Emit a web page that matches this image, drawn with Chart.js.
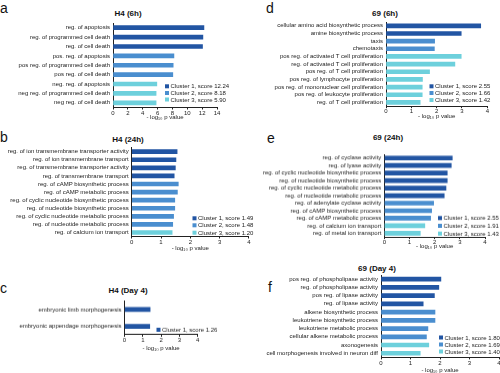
<!DOCTYPE html>
<html>
<head>
<meta charset="utf-8">
<script src="https://cdn.jsdelivr.net/npm/chart.js@4.4.0/dist/chart.umd.min.js"></script>
<style>
  html, body { margin: 0; padding: 0; background: #fff; overflow: hidden; }
  #fig { position: relative; width: 500px; height: 373px; font-family: "Liberation Sans", Arial, sans-serif; color: #222; }
  #fig canvas { position: absolute; }
  .letter { position: absolute; font-size: 14px; line-height: 14px; color: #111; }
  .ptitle { position: absolute; width: 120px; text-align: center; font-size: 8px; line-height: 10px; font-weight: bold; color: #111; }
</style>
</head>
<body>
<div id="fig">
  <div class="letter" style="left:0px;top:1px">a</div>
  <div class="letter" style="left:0px;top:130px">b</div>
  <div class="letter" style="left:0px;top:281px">c</div>
  <div class="letter" style="left:266px;top:1px">d</div>
  <div class="letter" style="left:267px;top:131px">e</div>
  <div class="letter" style="left:268px;top:280px">f</div>

  <div class="ptitle" style="left:68px;top:9px">H4 (6h)</div>
  <div class="ptitle" style="left:68px;top:135px">H4 (24h)</div>
  <div class="ptitle" style="left:68px;top:286px">H4 (Day 4)</div>
  <div class="ptitle" style="left:325px;top:9px">69 (6h)</div>
  <div class="ptitle" style="left:328px;top:133px">69 (24h)</div>
  <div class="ptitle" style="left:317px;top:264px">69 (Day 4)</div>

  <canvas id="chartA"></canvas>
  <canvas id="chartB"></canvas>
  <canvas id="chartC"></canvas>
  <canvas id="chartD"></canvas>
  <canvas id="chartE"></canvas>
  <canvas id="chartF"></canvas>
</div>
<script>
// H4 (6h)
const aCategories = ['reg. of apoptosis', 'reg. of programmed cell death', 'reg. of cell death',
  'pos. reg. of apoptosis', 'pos reg. of programmed cell death', 'pos reg. of cell death',
  'neg. reg. of apoptosis', 'neg reg. of programmed cell death', 'neg reg. of cell death'];
const aValues = [12.24, 12.1, 12.05, 8.2, 8.1, 8.05, 5.9, 5.8, 5.8];
const aClusters = [1, 1, 1, 2, 2, 2, 3, 3, 3];
const aLegend = ['Cluster 1, score 12.24', 'Cluster 2, score 8.18', 'Cluster 3, score 5.90'];
const aTicks = [0, 2, 4, 6, 8, 10, 12, 14];

// H4 (24h)
const bCategories = ['reg. of ion transmembrane transporter activity', 'reg. of ion transmembrane transport',
  'reg. of transmembrane transporter activity', 'reg. of transmembrane transport',
  'reg. of cAMP biosynthetic process', 'reg. of cAMP metabolic process',
  'reg. of cyclic nucleotide biosynthetic process', 'reg. of nucleotide biosynthetic process',
  'reg. of cyclic nucleotide metabolic process', 'reg. of nucleotide metabolic process',
  'reg. of calcium ion transport'];
const bValues = [1.55, 1.51, 1.49, 1.45, 1.59, 1.56, 1.47, 1.47, 1.43, 1.40, 1.38];
const bClusters = [1, 1, 1, 1, 2, 2, 2, 2, 2, 2, 3];
const bLegend = ['Cluster 1, score 1.49', 'Cluster 2, score 1.48', 'Cluster 3, score 1.20'];

// H4 (Day 4)
const cCategories = ['embryonic limb morphogenesis', 'embryonic appendage morphogenesis'];
const cValues = [1.40, 1.38];
const cClusters = [1, 1];
const cLegend = ['Cluster 1, score 1.26'];

// 69 (6h)
const dCategories = ['cellular amino acid biosynthetic process', 'amine biosynthetic process', 'taxis', 'chemotaxis',
  'pos reg. of activated T cell proliferation', 'reg. of activated T cell proliferation',
  'pos reg. of T cell proliferation', 'pos reg. of lymphocyte proliferation',
  'pos reg. of mononuclear cell proliferation', 'pos reg. of leukocyte proliferation',
  'reg. of T cell proliferation'];
const dValues = [3.74, 2.97, 1.92, 1.91, 2.97, 2.72, 1.72, 1.44, 1.43, 1.43, 1.35];
const dClusters = [1, 1, 2, 2, 3, 3, 3, 3, 3, 3, 3];
const dLegend = ['Cluster 1, score 2.55', 'Cluster 2, score 1.66', 'Cluster 3, score 1.42'];

// 69 (24h)
const eCategories = ['reg. of cyclase activity', 'reg. of lyase activity',
  'reg. of cyclic nucleotide biosynthetic process', 'reg. of nucleotide biosynthetic process',
  'reg. of cyclic nucleotide metabolic process', 'reg. of nucleotide metabolic process',
  'reg. of adenylate cyclase activity', 'reg. of cAMP biosynthetic process',
  'reg. of cAMP metabolic process', 'reg. of calcium ion transport', 'reg. of metal ion transport'];
const eValues = [2.70, 2.66, 2.50, 2.50, 2.45, 2.38, 1.96, 1.88, 1.84, 1.61, 1.43];
const eClusters = [1, 1, 1, 1, 1, 1, 2, 2, 2, 3, 3];
const eLegend = ['Cluster 1, score 2.55', 'Cluster 2, score 1.91', 'Cluster 3, score 1.43'];

// 69 (Day 4)
const fCategories = ['pos reg. of phospholipase activity', 'reg. of phospholipase activity',
  'pos reg. of lipase activity', 'reg. of lipase activity', 'alkene biosynthetic process',
  'leukotriene biosynthetic process', 'leukotriene metabolic process',
  'cellular alkene metabolic process', 'axonogenesis', 'cell morphogenesis involved in neuron diff'];
const fValues = [2.03, 1.96, 1.81, 1.43, 1.83, 1.83, 1.59, 1.54, 1.62, 1.33];
const fClusters = [1, 1, 1, 1, 2, 2, 2, 2, 3, 3];
const fLegend = ['Cluster 1, score 1.80', 'Cluster 2, score 1.69', 'Cluster 3, score 1.40'];

const smallTicks = [0, 1, 2, 3, 4];

const clusterColors = ['#2255a3', '#4a8ecf', '#6dd0dc'];

Chart.defaults.font.family = '"Liberation Sans", Arial, sans-serif';
Chart.defaults.font.size = 6;
Chart.defaults.color = '#222';

// legend squares + text drawn at fixed spots inside the plot
const clusterLegend = {
  id: 'clusterLegend',
  afterDraw(chart, args, opts) {
    const ctx = chart.ctx;
    ctx.save();
    ctx.font = '6px "Liberation Sans", Arial, sans-serif';
    ctx.textBaseline = 'middle';
    ctx.textAlign = 'left';
    chart.data.datasets.forEach((ds, i) => {
      const y = opts.rows[i] - opts.top;
      const x = opts.x - opts.left;
      ctx.fillStyle = ds.backgroundColor;
      ctx.fillRect(x, y - 2, 4, 4);
      ctx.fillStyle = '#222';
      ctx.fillText(ds.label, x + 5.5, y + 0.5);
    });
    ctx.restore();
  }
};

function makePanel(id, categories, values, clusters, legend, ticks, box, area, legendPos) {
  const canvas = document.getElementById(id);
  canvas.style.left = box.left + 'px';
  canvas.style.top = box.top + 'px';
  canvas.width = box.w;
  canvas.height = box.h;
  canvas.style.width = box.w + 'px';
  canvas.style.height = box.h + 'px';

  const datasets = legend.map((label, k) => ({
    label: label,
    data: values.map((v, i) => clusters[i] === k + 1 ? v : null),
    backgroundColor: clusterColors[k],
    barThickness: 4,
    grouped: false
  }));

  new Chart(canvas.getContext('2d'), {
    type: 'bar',
    data: { labels: categories, datasets: datasets },
    options: {
      indexAxis: 'y',
      responsive: false,
      animation: false,
      layout: {
        padding: { left: 0, bottom: 0, top: area.T - box.top, right: box.left + box.w - area.R }
      },
      plugins: {
        legend: { display: false },
        tooltip: { enabled: false },
        clusterLegend: { x: legendPos.x, rows: legendPos.rows, left: box.left, top: box.top }
      },
      scales: {
        x: {
          min: 0,
          max: ticks[ticks.length - 1],
          afterBuildTicks: (scale) => { scale.ticks = ticks.map(v => ({ value: v })); },
          afterFit: (scale) => {
            scale.height = box.top + box.h - area.B;
            scale.paddingLeft = 0;
            scale.paddingRight = 0;
          },
          grid: { drawOnChartArea: false, drawTicks: true, tickLength: 2, color: '#222' },
          border: { display: true, color: '#222', width: 1 },
          ticks: { autoSkip: false, padding: 0, maxRotation: 0, font: { size: 6 } },
          title: { display: true, text: '- log₁₀ p value', padding: 0, font: { size: 6 } }
        },
        y: {
          afterFit: (scale) => {
            scale.width = area.L - box.left;
            scale.paddingTop = 0;
            scale.paddingBottom = 0;
          },
          grid: { drawOnChartArea: false, drawTicks: false },
          border: { display: true, color: '#222', width: 1 },
          ticks: { autoSkip: false, padding: 3, font: { size: 6 } }
        }
      }
    },
    plugins: [clusterLegend]
  });
}

makePanel('chartA', aCategories, aValues, aClusters, aLegend, aTicks,
  { left: 0, top: 0, w: 256, h: 121 }, { L: 113, R: 217, T: 23, B: 107.5 },
  { x: 165, rows: [86.3, 93, 99.5] });

makePanel('chartB', bCategories, bValues, bClusters, bLegend, smallTicks,
  { left: 0, top: 125, w: 256, h: 127 }, { L: 131.7, R: 248.9, T: 147.6, B: 236.5 },
  { x: 192.5, rows: [218.3, 225.3, 232.7] });

makePanel('chartC', cCategories, cValues, cClusters, cLegend, smallTicks,
  { left: 0, top: 255, w: 256, h: 96.6 }, { L: 124.5, R: 197.7, T: 300.5, B: 334.5 },
  { x: 156.5, rows: [329] });

makePanel('chartD', dCategories, dValues, dClusters, dLegend, smallTicks,
  { left: 250, top: 0, w: 250, h: 120.3 }, { L: 386, R: 487.3, T: 22, B: 106.5 },
  { x: 429.5, rows: [86.3, 93, 100] });

makePanel('chartE', eCategories, eValues, eClusters, eLegend, smallTicks,
  { left: 250, top: 125, w: 250, h: 124.6 }, { L: 384.3, R: 485, T: 154, B: 236.7 },
  { x: 438, rows: [217.3, 225, 232.7] });

makePanel('chartF', fCategories, fValues, fClusters, fLegend, smallTicks,
  { left: 250, top: 255, w: 250, h: 119 }, { L: 381, R: 499, T: 275, B: 357.4 },
  { x: 439, rows: [337.5, 344.5, 351.5] });
</script>
</body>
</html>
